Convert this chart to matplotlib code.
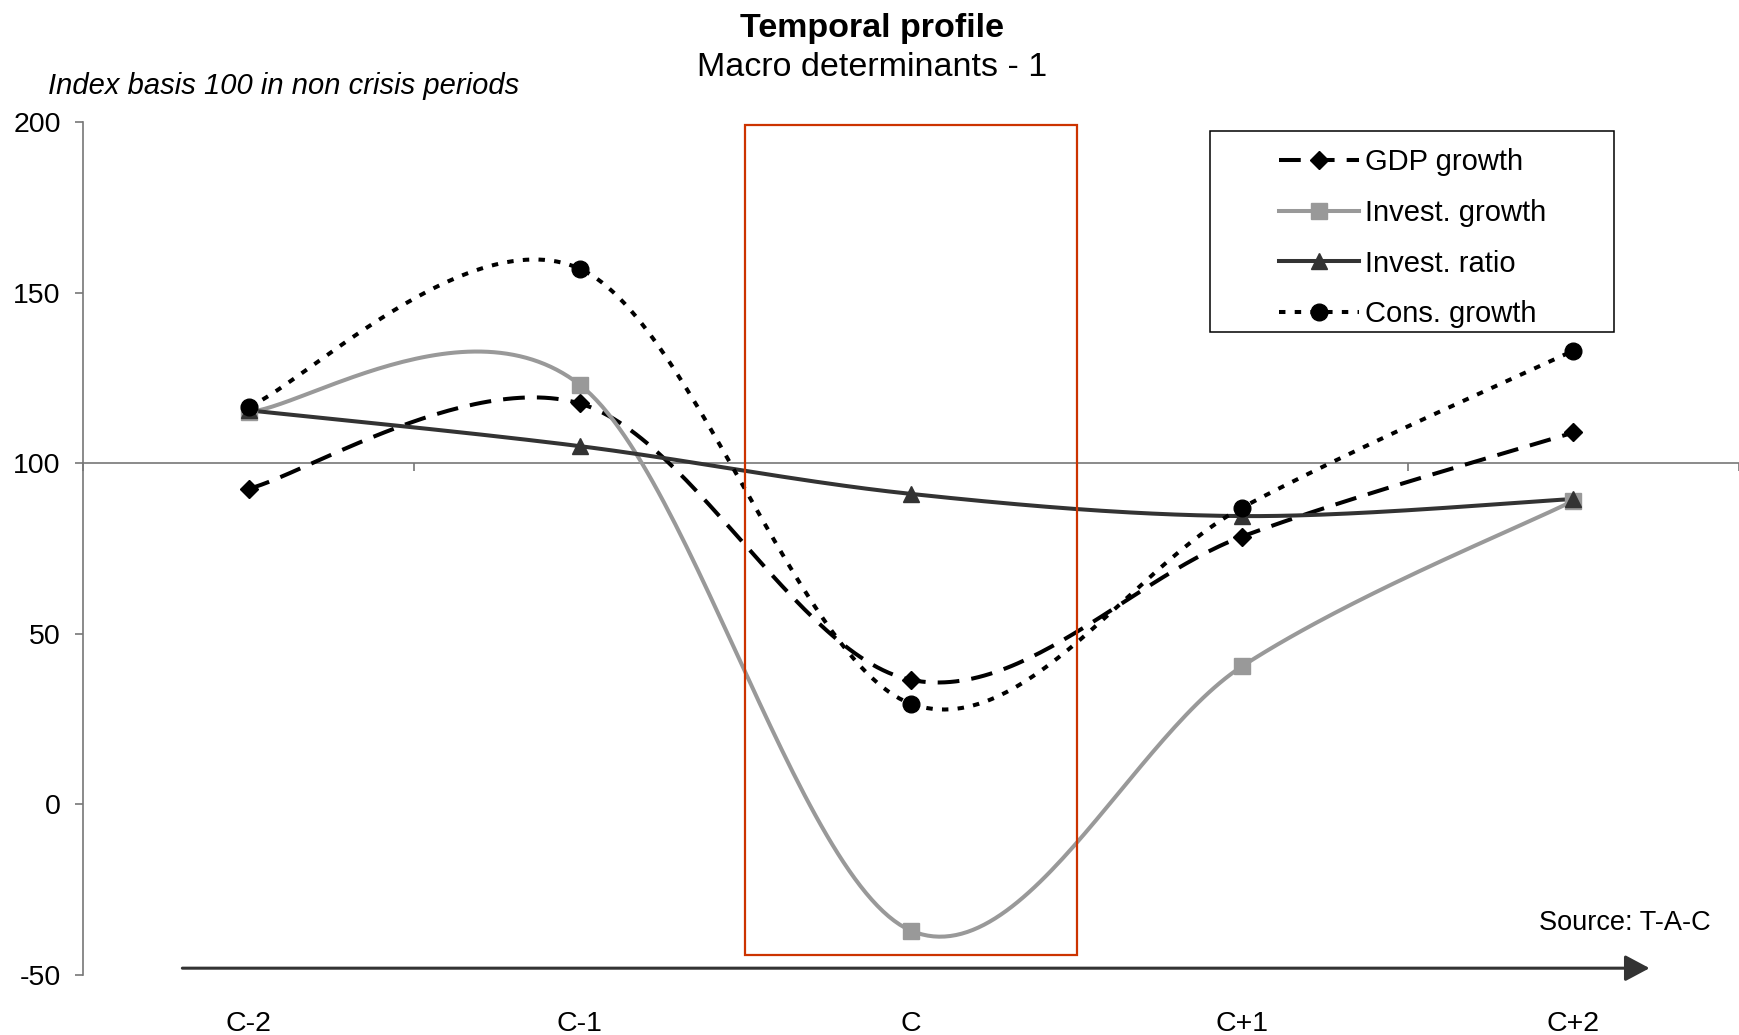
"""
Temporal profile - macro determinants (index basis 100 in non crisis periods)
"""
import matplotlib
matplotlib.use("Agg")
import matplotlib.pyplot as plt
from matplotlib.lines import Line2D
from matplotlib.patches import Rectangle
import numpy as np

plt.rcParams["font.family"] = ["Liberation Sans", "DejaVu Sans"]
plt.rcParams["axes.unicode_minus"] = False

periods = ["C-2", "C-1", "C", "C+1", "C+2"]
gdp_growth = [92.5, 117.5, 36.5, 78.5, 109]
invest_growth = [115, 123, -37, 40.5, 89]
invest_ratio = [115.5, 105, 91, 84.5, 89.5]
cons_growth = [116.5, 157, 29.5, 87, 133]
series_names = ["GDP growth", "Invest. growth", "Invest. ratio", "Cons. growth"]

crisis_box = (1.5, 2.5, -44, 199)


def smooth(xs, ys, n=60):
    # Excel-like smoothed line: cubic bezier with catmull-rom control points
    p = np.column_stack([xs, ys]).astype(float)
    p = np.vstack([p[0], p, p[-1]])
    out = []
    t = np.linspace(0, 1, n)[:, None]
    for i in range(1, len(p) - 2):
        p0, p1, p2, p3 = p[i - 1], p[i], p[i + 1], p[i + 2]
        c1 = p1 + (p2 - p0) / 6
        c2 = p2 - (p3 - p1) / 6
        seg = ((1 - t) ** 3) * p1 + 3 * ((1 - t) ** 2) * t * c1 + 3 * (1 - t) * t ** 2 * c2 + t ** 3 * p2
        out.append(seg if i == 1 else seg[1:])
    out = np.vstack(out)
    return out[:, 0], out[:, 1]


fig = plt.figure(figsize=(17.39, 10.35), dpi=100)
ax = fig.add_axes([83 / 1739, 60 / 1035, 1 - 83 / 1739, 853 / 1035])

x = np.arange(len(periods))
styles = [
    dict(color="black", ls=(0, (5.4, 3.0)), marker="D", ms=9.5),
    dict(color="#999999", ls="-", marker="s", ms=11),
    dict(color="#333333", ls="-", marker="^", ms=12),
    dict(color="black", ls=(0, (1.6, 2.3)), marker="o", ms=12),
]
data = [gdp_growth, invest_growth, invest_ratio, cons_growth]

handles = []
for vals, st, name in zip(data, styles, series_names):
    sx, sy = smooth(x, vals)
    ax.plot(sx, sy, color=st["color"], ls=st["ls"], lw=2.9, zorder=3)
    ax.plot(x, vals, ls="none", marker=st["marker"], ms=st["ms"],
            color=st["color"], mec=st["color"], zorder=4)
    handles.append(Line2D([], [], color=st["color"], ls=st["ls"], lw=2.9,
                          marker=st["marker"], ms=st["ms"], mec=st["color"]))

# crisis period frame
x0, x1, y0, y1 = crisis_box
ax.add_patch(Rectangle((x0, y0), x1 - x0, y1 - y0, fill=False, ec="#CC3300",
                       lw=1.6, zorder=5, clip_on=False))

ax.set_xlim(-0.5, 4.5)
ax.set_ylim(-50, 200)
ax.set_yticks([-50, 0, 50, 100, 150, 200])
ax.set_xticks(np.arange(-0.5, 5, 1))
ax.tick_params(axis="x", labelbottom=False, direction="out", length=6,
               color="#777777", width=1.2)
ax.tick_params(axis="y", direction="out", length=6, color="#777777", width=1.2,
               labelsize=20.5, pad=10)
for s in ["top", "right"]:
    ax.spines[s].set_visible(False)
ax.spines["bottom"].set_position(("data", 100))
for s in ["bottom", "left"]:
    ax.spines[s].set_color("#777777")
    ax.spines[s].set_linewidth(1.2)

for i, lab in enumerate(periods):
    ax.annotate(lab, xy=(i, 0), xycoords=("data", "axes fraction"),
                xytext=(0, -35), textcoords="offset points",
                ha="center", va="center", fontsize=20.5)

# time arrow
ax.annotate("", xy=(4.23, -48), xytext=(-0.2, -48),
            arrowprops=dict(arrowstyle="-|>,head_length=1.5,head_width=0.8",
                            color="#333333", lw=2.2, shrinkA=0, shrinkB=0),
            annotation_clip=False)

fig.text(0.5014, 1 - 28 / 1035, "Temporal profile", ha="center", va="center",
         fontsize=24.5, fontweight="bold")
fig.text(0.5014, 1 - 68 / 1035, "Macro determinants - 1", ha="center", va="center",
         fontsize=24.5)
fig.text(48 / 1739, 1 - 86 / 1035, "Index basis 100 in non crisis periods",
         ha="left", va="center", fontsize=21, style="italic")
fig.text(1711 / 1739, 1 - 923 / 1035, "Source: T-A-C", ha="right", va="center",
         fontsize=19.5)

# legend with its own frame
fig.patches.append(Rectangle((1210 / 1739, 1 - 332 / 1035), 404 / 1739, 201 / 1035,
                             transform=fig.transFigure, fill=False, ec="black", lw=1.1))
fig.legend(handles, series_names, loc="upper left",
           bbox_to_anchor=(1279 / 1739, 1 - 148 / 1035), frameon=False,
           fontsize=21, handlelength=2.75, handletextpad=0.2, labelspacing=0.78,
           borderpad=0, borderaxespad=0, numpoints=1)

fig.savefig("out.png", dpi=100, facecolor="white")
